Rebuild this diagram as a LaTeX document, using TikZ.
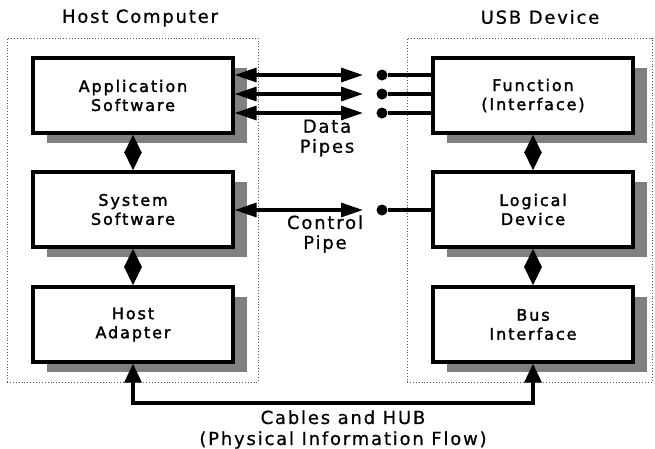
\documentclass[tikz,border=0pt]{standalone}
\usepackage{fontspec}
\setmainfont{DejaVu Sans}[LetterSpace=10, FakeBold=0.7]
\newfontfamily\boxfont{DejaVu Sans}[LetterSpace=12, FakeBold=1.8]
\usetikzlibrary{arrows.meta,shadows}
\definecolor{shade}{gray}{0.5}
\definecolor{frame}{gray}{0.35}
\begin{document}
\begin{tikzpicture}[x=1pt,y=-1pt,
  block/.style={draw, line width=3.2pt, fill=white,
    minimum width=200pt, minimum height=75pt, align=center,
    font=\boxfont\fontsize{16}{19}\selectfont,
    drop shadow={shadow xshift=14pt, shadow yshift=-10pt, fill=shade, opacity=1}},
  container/.style={draw=frame, dotted, line width=0.9pt,
    minimum width=251pt, minimum height=344pt, inner sep=0pt},
  title/.style={font=\fontsize{18}{21}\selectfont, inner sep=0pt},
  label/.style={font=\fontsize{18}{20}\selectfont, align=center, inner sep=0pt},
  pipe/.style={line width=3.2pt, {Triangle[length=22pt,width=14pt]}-{Triangle[length=22pt,width=14pt]}},
  stub/.style={line width=3.2pt},
  dotnode/.style={circle, fill, inner sep=0pt, minimum size=11pt},
  stack/.style={line width=3.2pt, {Triangle[length=18.5pt,width=17pt]}-{Triangle[length=18.5pt,width=17pt]}},
  cable/.style={line width=3.2pt, {Triangle[length=19pt,width=17pt]}-{Triangle[length=19pt,width=17pt]}}
]
\useasboundingbox (0,0) rectangle (655,448);

% dotted enclosures
\node[container] (hostarea) at (132.5,210) {};
\node[container, minimum width=245pt] (devarea) at (529.5,210) {};
\node[title] (hosttitle) at (140,18) {Host Computer};
\node[title] (devtitle) at (540,17) {USB Device};

% host side layers
\node[block] (app) at (133,95.5) {Application\\Software};
\node[block] (sys) at (133,209.5) {System\\Software};
\node[block] (adapter) at (133,324.5) {Host\\Adapter};

% device side layers
\node[block] (func) at (533,95.5) {Function\\(Interface)};
\node[block] (logic) at (533,209.5) {Logical\\Device};
\node[block] (busif) at (533,324.5) {Bus\\Interface};

% vertical links between layers
\draw[stack] (app.south) -- (sys.north);
\draw[stack] (sys.south) -- (adapter.north);
\draw[stack] (func.south) -- (logic.north);
\draw[stack] (logic.south) -- (busif.north);

% pipe end points
\coordinate (tipA) at (363,75);
\coordinate (tipB) at (363,94);
\coordinate (tipC) at (363,113);
\coordinate (tipD) at (363,210);
\node[dotnode] (dotA) at (382,75) {};
\node[dotnode] (dotB) at (382,94) {};
\node[dotnode] (dotC) at (382,113) {};
\node[dotnode] (dotD) at (382,210) {};

% data pipes
\draw[pipe] (app.east |- tipA) -- (tipA);
\draw[pipe] (app.east |- tipB) -- (tipB);
\draw[pipe] (app.east |- tipC) -- (tipC);
\draw[stub] (dotA) -- (func.west |- dotA);
\draw[stub] (dotB) -- (func.west |- dotB);
\draw[stub] (dotC) -- (func.west |- dotC);
\node[label] (datalbl) at (327,138) {Data\\Pipes};

% control pipe
\draw[pipe] (sys.east |- tipD) -- (tipD);
\draw[stub] (dotD) -- (logic.west |- dotD);
\node[label] (ctrllbl) at (325,234) {Control\\Pipe};

% physical connection
\coordinate (cablemid) at (333,403);
\draw[cable] (adapter.south) |- (cablemid) -| (busif.south);
\node[label, font=\fontsize{18}{21}\selectfont] (cablelbl) at (343,429.5) {Cables and HUB\\(Physical Information Flow)};
\end{tikzpicture}
\end{document}
